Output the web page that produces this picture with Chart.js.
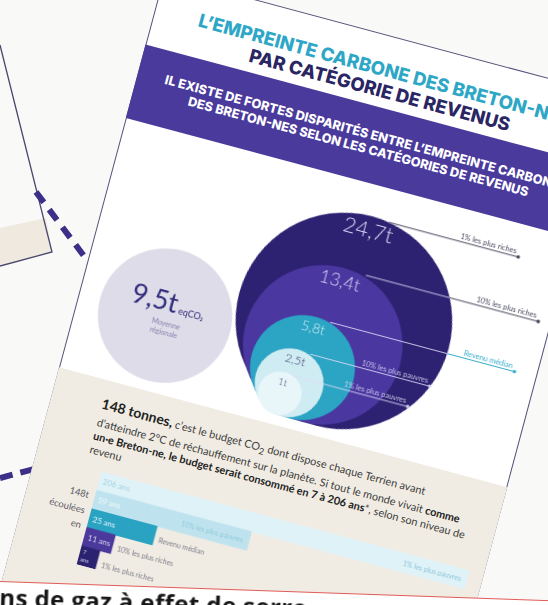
<!DOCTYPE html>
<html lang="fr">
<head>
<meta charset="UTF-8">
<meta name="viewport" content="width=device-width, initial-scale=1.0">
<title>L'empreinte carbone des Breton-nes par catégorie de revenus</title>
<script src="https://cdn.jsdelivr.net/npm/chart.js@4.4.1/dist/chart.umd.min.js"></script>
<style>
    html, body { margin: 0; padding: 0; }
    body { width: 548px; height: 605px; overflow: hidden; position: relative; background: #f9f9f8; font-family: Lato, "Open Sans", sans-serif; }
    #backdrop { position: absolute; left: 0; top: 0; }
    .poster { position: absolute; left: 72px; top: 35px; width: 470px; height: 760px; transform-origin: 269px 300px; transform: rotate(15deg); }
    .frame { position: absolute; left: 5px; top: -2px; width: 464px; height: 800px; background: #fff; border: 1.5px solid #55537a; box-sizing: border-box; }
    .title { position: absolute; left: 0; width: 486px; text-align: center; font-family: Inter, sans-serif; font-weight: 800; font-size: 18.5px; line-height: 21px; white-space: nowrap; }
    .t1 { top: 22px; color: #2ea7c7; }
    .t2 { top: 43px; color: #2a2563; }
    .banner { position: absolute; left: 5px; width: 464px; top: 70px; height: 76px; background: #4a3a9c; }
    .banner p { margin: 0; position: absolute; top: 21px; left: 0; width: 100%; text-align: center; color: #fff; font-family: Inter, sans-serif; font-weight: 800; font-size: 11.6px; line-height: 15px; white-space: nowrap; }
    .ln { display: inline-block; }
    #bubbles { position: absolute; left: 0; top: 140px; }
    .beige { position: absolute; left: 5px; width: 464px; top: 404px; height: 400px; background: #f1ece3; }
    .para { position: absolute; left: 56px; top: 418px; font-size: 10.6px; line-height: 14px; color: #3c3c3c; white-space: nowrap; }
    .para b { color: #222; }
    .para .big { font-size: 1.28em; line-height: 20px; }
    .elapsed { position: absolute; left: 0; width: 67px; top: 512px; text-align: right; font-size: 9.5px; line-height: 15.5px; color: #5a5a66; }
    #bars { position: absolute; left: 0; top: 494px; }
    .sheet { position: absolute; left: -20px; top: 581px; width: 620px; height: 60px; background: #fff; border-top: 1.5px solid #e05b57; transform-origin: 20px 0; transform: rotate(2deg); }
    .sheet span { position: absolute; left: 20px; top: -2px; font-family: "Open Sans", sans-serif; font-weight: 700; font-size: 24px; letter-spacing: 0.4px; color: #161616; white-space: nowrap; }
</style>
</head>
<body>
    <svg id="backdrop" width="548" height="605">
        <polygon points="0,228 46,218 52,252 0,266" fill="#efe9df"/>
        <polyline points="0,45 52,252 0,266" fill="none" stroke="#4b4870" stroke-width="1.3"/>
        <line x1="36" y1="192" x2="96" y2="272" stroke="#3b2f88" stroke-width="6" stroke-dasharray="13 9"/>
        <line x1="0" y1="478" x2="42" y2="467" stroke="#3b2f88" stroke-width="6" stroke-dasharray="13 8"/>
    </svg>

    <div class="poster">
        <div class="frame"></div>
        <div class="title t1">L’EMPREINTE CARBONE DES BRETON-NES</div>
        <div class="title t2">PAR CATÉGORIE DE REVENUS</div>
        <div class="banner">
            <p id="bannerText"><span class="ln">IL EXISTE DE FORTES DISPARITÉS ENTRE L’EMPREINTE CARBONE</span><br><span class="ln">DES BRETON-NES SELON LES CATÉGORIES DE REVENUS</span></p>
        </div>
        <div class="beige"></div>
        <canvas id="bubbles" width="470" height="262"></canvas>
        <div class="para" id="para"><span class="ln"><b class="big">148 tonnes,</b> c’est le budget CO<sub>2</sub> dont dispose chaque Terrien avant</span><br><span class="ln">d’atteindre 2°C de réchauffement sur la planète. Si tout le monde vivait <b>comme</b></span><br><span class="ln"><b>un·e Breton-ne, le budget serait consommé en 7 à 206 ans</b>*, selon son niveau de</span><br><span class="ln">revenu</span></div>
        <div class="elapsed">148t<br>écoulées<br>en</div>
        <canvas id="bars" width="470" height="96"></canvas>
    </div>

    <div class="sheet"><span>ns de gaz à effet de serre</span></div>

    <script>
        // empreinte carbone annuelle (t eqCO2) par catégorie de revenus
        const categories = ['1% les plus riches', '10% les plus riches', 'Revenu médian', '10% les plus pauvres', '1% les plus pauvres'];
        const footprints = [24.7, 13.4, 5.8, 2.5, 1];
        const footprintLabels = ['24,7t', '13,4t', '5,8t', '2,5t', '1t'];
        const averageName = 'Moyenne régionale';
        const averageFootprint = 9.5;
        const averageLabel = '9,5t';

        // années pour consommer le budget de 148t
        const barCategories = ['1% les plus pauvres', '10% les plus pauvres', 'Revenu médian', '10% les plus riches', '1% les plus riches'];
        const yearsToBudget = [206, 59, 25, 11, 7];
        const yearsLabels = ['206 ans', '59 ans', '25 ans', '11 ans', '7 ans'];

        // mise en page (px du poster)
        const circleScale = 21.8;   // px par racine de tonne
        const baseline = 394;
        const nestLeft = 214;
        const averageX = 94;
        const leaderEnds = [420, 456, 446, 368, 352];

        const circleColors = ['#2d2272', '#4a37a0', '#2ca4c4', '#d0ecf3', '#e9f6f9'];
        const circleText = [
            { size: 22, color: '#d9d5f3' },
            { size: 18, color: '#d9d5f3' },
            { size: 14, color: '#d2f0f7' },
            { size: 12, color: '#3b3a6e' },
            { size: 10, color: '#4b4a7a' }
        ];
        const barColors = ['#dff2f8', '#bfe3ee', '#2aa3c3', '#4b399b', '#2b2270'];
        const barTextColors = ['#a3d3e2', '#eef8fb', '#e3f5fa', '#dcd6f5', '#d2cdf0'];
        const barInsideLabel = ['#8cc6d8', '#8fc9da'];

        // largeur des lignes de texte sur l'affiche
        function fitLines(box, targets) {
            const lines = box.querySelectorAll('.ln');
            let have = 0, want = 0;
            targets.forEach((t, i) => { have += lines[i].offsetWidth; want += t; });
            const size = parseFloat(getComputedStyle(box).fontSize);
            box.style.fontSize = (size * want / have).toFixed(2) + 'px';
        }
        fitLines(document.getElementById('bannerText'), [404, 356]);
        fitLines(document.getElementById('para'), [340, 374, 381]);

        Chart.defaults.font.family = 'Lato';

        const rOf = v => circleScale * Math.sqrt(v);

        function radiusFromScale(ctx) {
            const s = ctx.chart.scales.x;
            if (!ctx.raw || !s) return 0;
            const px = s.getPixelForValue(rOf(ctx.raw.v)) - s.getPixelForValue(0);
            return isFinite(px) ? px : 0;
        }

        const circleLabels = {
            id: 'circleLabels',
            afterDatasetsDraw(chart) {
                const ctx = chart.ctx;
                const big = chart.getDatasetMeta(1).data[0];
                ctx.save();

                // moyenne régionale
                const avg = chart.getDatasetMeta(0).data[0];
                ctx.font = '27px Lato';
                const w1 = ctx.measureText(averageLabel).width;
                ctx.font = '9px Lato';
                const w2 = ctx.measureText(' eqCO₂').width;
                const left = avg.x - (w1 + w2) / 2;
                ctx.textAlign = 'left';
                ctx.textBaseline = 'alphabetic';
                ctx.fillStyle = '#2f2a7a';
                ctx.font = '27px Lato';
                ctx.fillText(averageLabel, left, avg.y - 5);
                ctx.font = '9px Lato';
                ctx.fillText(' eqCO₂', left + w1, avg.y - 5);
                ctx.textAlign = 'center';
                ctx.fillStyle = '#8683ad';
                ctx.font = '7px Lato';
                const words = averageName.split(' ');
                ctx.fillText(words[0], avg.x + 3, avg.y + 10);
                ctx.fillText(words[1], avg.x + 3, avg.y + 19);

                // catégories
                ctx.textBaseline = 'middle';
                chart.getDatasetMeta(1).data.forEach((el, i) => {
                    const r = el.options.radius;
                    const top = el.y - r;
                    const st = circleText[i];
                    ctx.font = '300 ' + st.size + 'px Lato';
                    ctx.textAlign = 'center';
                    ctx.fillStyle = st.color;
                    ctx.fillText(footprintLabels[i], el.x, top + 7 + st.size * 0.35);
                    const tw = ctx.measureText(footprintLabels[i]).width;

                    const ly = top + 1.5;
                    const x0 = el.x + tw / 2 + 3;
                    const x1 = leaderEnds[i];
                    const dy = ly - big.y;
                    const R = big.options.radius;
                    const edge = big.x + Math.sqrt(Math.max(R * R - dy * dy, 0));
                    const outside = i === 2 ? '#3aaecd' : '#4a4a60';
                    const pale = 'rgba(222,218,246,0.85)';
                    ctx.lineWidth = 1;
                    ctx.strokeStyle = pale;
                    ctx.beginPath();
                    ctx.moveTo(x0, ly);
                    ctx.lineTo(Math.min(edge, x1), ly);
                    ctx.stroke();
                    if (x1 > edge) {
                        ctx.strokeStyle = outside;
                        ctx.beginPath();
                        ctx.moveTo(edge, ly);
                        ctx.lineTo(x1, ly);
                        ctx.stroke();
                    }
                    ctx.fillStyle = x1 > edge ? outside : pale;
                    ctx.beginPath();
                    ctx.arc(x1, ly, 1.8, 0, Math.PI * 2);
                    ctx.fill();
                    ctx.font = '7.5px Lato';
                    ctx.textAlign = 'right';
                    ctx.textBaseline = 'alphabetic';
                    ctx.fillText(categories[i], x1 - 3, ly - 2.5);
                    ctx.textBaseline = 'middle';
                });
                ctx.restore();
            }
        };

        new Chart(document.getElementById('bubbles'), {
            type: 'scatter',
            data: {
                datasets: [{
                    label: averageName,
                    data: [{ x: averageX, y: baseline - rOf(averageFootprint), v: averageFootprint }],
                    pointBackgroundColor: '#dedce9'
                }, {
                    label: 'Empreinte carbone',
                    data: footprints.map(v => ({ x: nestLeft + 0.5 * rOf(v), y: baseline - rOf(v), v: v })),
                    pointBackgroundColor: circleColors
                }]
            },
            options: {
                responsive: false,
                animation: false,
                events: [],
                clip: false,
                showLine: false,
                layout: { autoPadding: false, padding: 0 },
                elements: {
                    point: { borderWidth: 0, radius: radiusFromScale, hoverRadius: radiusFromScale }
                },
                scales: {
                    x: { type: 'linear', min: 0, max: 470, display: false },
                    y: { type: 'linear', min: 140, max: 402, reverse: true, display: false }
                },
                plugins: { legend: { display: false }, tooltip: { enabled: false } }
            },
            plugins: [circleLabels]
        });

        const barLabels = {
            id: 'barLabels',
            afterDatasetsDraw(chart) {
                const { ctx, chartArea } = chart;
                ctx.save();
                ctx.textBaseline = 'middle';
                chart.getDatasetMeta(0).data.forEach((bar, i) => {
                    const end = Math.min(bar.x, chartArea.right);
                    ctx.textAlign = 'left';
                    ctx.fillStyle = barTextColors[i];
                    ctx.font = '8px Lato';
                    const w = ctx.measureText(yearsLabels[i]).width;
                    if (w + 6 < end - bar.base) {
                        ctx.fillText(yearsLabels[i], bar.base + 4, bar.y);
                    } else {
                        const parts = yearsLabels[i].split(' ');
                        ctx.font = '6px Lato';
                        ctx.fillText(parts[0], bar.base + 3, bar.y - 4);
                        ctx.fillText(parts[1], bar.base + 2, bar.y + 4);
                    }
                    ctx.font = '7px Lato';
                    const cw = ctx.measureText(barCategories[i]).width;
                    if (end - bar.base > cw + w + 20) {
                        ctx.textAlign = 'right';
                        ctx.fillStyle = barInsideLabel[i];
                        ctx.fillText(barCategories[i], end - 6, bar.y + 1);
                    } else {
                        ctx.fillStyle = '#7b7d8c';
                        ctx.fillText(barCategories[i], end + 5, bar.y + 4);
                    }
                });
                ctx.restore();
            }
        };

        new Chart(document.getElementById('bars'), {
            type: 'bar',
            data: {
                labels: barCategories,
                datasets: [{
                    data: yearsToBudget,
                    backgroundColor: barColors,
                    borderWidth: 0,
                    barPercentage: 1,
                    categoryPercentage: 1
                }]
            },
            options: {
                indexAxis: 'y',
                responsive: false,
                animation: false,
                events: [],
                layout: { padding: { left: 73, right: 16, top: 0, bottom: 0 } },
                scales: {
                    x: { min: 0, max: 140, display: false },
                    y: { display: false }
                },
                plugins: { legend: { display: false }, tooltip: { enabled: false } }
            },
            plugins: [barLabels]
        });
    </script>
</body>
</html>
